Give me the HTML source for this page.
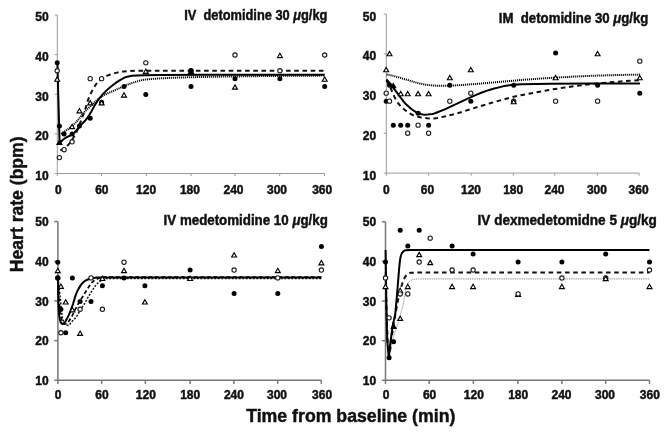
<!DOCTYPE html>
<html><head><meta charset="utf-8"><style>
html,body{margin:0;padding:0;background:#fff;}
svg{display:block;filter:blur(0.35px);}
</style></head><body>
<svg width="668" height="433" viewBox="0 0 668 433">
<rect width="668" height="433" fill="#fff"/>
<g stroke="#9a9a9a" stroke-width="1" fill="none">
<path d="M57.3,15 V173.5 H324.5"/>
<path d="M54.7,15 H57.3"/>
<path d="M54.7,54.62 H57.3"/>
<path d="M54.7,94.25 H57.3"/>
<path d="M54.7,133.88 H57.3"/>
<path d="M54.7,173.5 H57.3"/>
<path d="M57.3,173.5 V176.1"/>
<path d="M101.5,173.5 V176.1"/>
<path d="M146.3,173.5 V176.1"/>
<path d="M191.1,173.5 V176.1"/>
<path d="M234.9,173.5 V176.1"/>
<path d="M279.7,173.5 V176.1"/>
<path d="M324.5,173.5 V176.1"/>
</g>
<g font-family='"Liberation Sans", sans-serif' font-weight="bold" font-size="12" fill="#111" stroke="#111" stroke-width="0.45">
<text x="48.6" y="21.4" text-anchor="end">50</text>
<text x="48.6" y="61.02" text-anchor="end">40</text>
<text x="48.6" y="100.65" text-anchor="end">30</text>
<text x="48.6" y="140.28" text-anchor="end">20</text>
<text x="48.6" y="179.9" text-anchor="end">10</text>
<text x="58.4" y="193.6" text-anchor="middle">0</text>
<text x="101.85" y="193.6" text-anchor="middle">60</text>
<text x="146.1" y="193.6" text-anchor="middle">120</text>
<text x="189.9" y="193.6" text-anchor="middle">180</text>
<text x="233.5" y="193.6" text-anchor="middle">240</text>
<text x="277" y="193.6" text-anchor="middle">300</text>
<text x="322.2" y="193.6" text-anchor="middle">360</text>
</g>
<text x="184.2" y="19.8" font-family='"Liberation Sans", sans-serif' font-weight="bold" font-size="14" fill="#111" stroke="#111" stroke-width="0.45" textLength="143.2" lengthAdjust="spacingAndGlyphs">IV&#160; detomidine 30 <tspan font-style="italic">μ</tspan>g/kg</text>
<path d="M61.2,134 L66,130.5 L70.4,127.53 L72.8,125.54 L75.2,123.11 L78.4,119.54 L83.6,112.9 L85.6,110.68 L90.4,106.29 L95.6,101.22 L98.8,98.66 L102,96.38 L104.4,94.89 L106.8,93.66 L112.4,91.33 L121.6,87.24 L128.4,84.37 L131.2,83.3 L135.6,81.83 L138.8,80.9 L142,80.13 L144.4,79.68 L148,79.29 L154,78.77 L160.4,78.34 L173.2,77.76 L192.8,77.18 L218.8,76.66 L262.8,76.07 L296,75.74 L324.8,75.6" fill="none" stroke="#000" stroke-width="2" stroke-dasharray="1.1 0.9"/>
<path d="M60.3,150.3 L62.3,149.67 L63.9,148.83 L65.5,147.57 L67.5,145.58 L69.5,143.34 L71.5,140.66 L73.5,137.53 L75.5,134 L76.7,131.52 L77.9,128.7 L81.9,118.5 L85.1,109.6 L85.9,107.19 L87.9,100.36 L89.1,97.21 L90.3,94.49 L91.9,91.29 L94.3,87 L95.9,84.46 L97.1,82.85 L99.1,80.71 L100.7,79.32 L102.3,78.21 L104.3,77.06 L106.7,75.93 L110.3,74.54 L113.5,73.49 L117.9,72.4 L121.1,71.78 L123.5,71.44 L129.9,71.02 L136.3,70.81 L324.8,70.8" fill="none" stroke="#111" stroke-width="2" stroke-dasharray="4.6 3.6"/>
<path d="M57.4,62.6 L58.4,100 L59.6,143 L59.6,143 L62.4,140.21 L64.4,138.57 L66.4,137.36 L71.2,135.02 L72.4,134.28 L73.6,133.37 L74.8,132.25 L76.4,130.52 L79.2,127.26 L81.6,124.27 L85.6,120.21 L87.2,118.17 L89.6,114.5 L91.2,111.75 L94.8,105.11 L97.2,101.39 L99.2,98.64 L101.2,96.11 L103.2,93.82 L105.6,91.35 L108,89.11 L110.8,86.71 L114,84.2 L117.2,81.92 L119.6,80.39 L123.6,78.09 L125.6,77.19 L127.2,76.72 L129.6,76.17 L131.6,75.84 L136.8,75.47 L144,75.22 L160.8,74.98 L207.2,74.86 L324.8,74.8" fill="none" stroke="#000" stroke-width="2" stroke-linejoin="round"/>
<circle cx="57.2" cy="62.87" r="2.5" fill="#000"/>
<circle cx="57.2" cy="70.77" r="2.15" fill="#fff" stroke="#1a1a1a" stroke-width="1.1"/>
<path d="M57.2,76.96 L59.65,81.26 L54.75,81.26Z" fill="#fff" stroke="#000" stroke-width="1.15" stroke-linejoin="miter"/>
<circle cx="59.4" cy="126.03" r="2.5" fill="#000"/>
<path d="M59.4,140.12 L61.85,144.42 L56.95,144.42Z" fill="#000" stroke="#000" stroke-width="1.15" stroke-linejoin="miter"/>
<circle cx="59.4" cy="157.61" r="2.15" fill="#fff" stroke="#1a1a1a" stroke-width="1.1"/>
<circle cx="64.1" cy="133.93" r="2.5" fill="#000"/>
<circle cx="64.1" cy="149.72" r="2.15" fill="#fff" stroke="#1a1a1a" stroke-width="1.1"/>
<circle cx="72.1" cy="133.93" r="2.5" fill="#000"/>
<path d="M72.1,124.33 L74.55,128.63 L69.65,128.63Z" fill="#fff" stroke="#000" stroke-width="1.15" stroke-linejoin="miter"/>
<circle cx="72.1" cy="141.82" r="2.15" fill="#fff" stroke="#1a1a1a" stroke-width="1.1"/>
<circle cx="79.4" cy="126.03" r="2.5" fill="#000"/>
<path d="M79.4,108.54 L81.85,112.84 L76.95,112.84Z" fill="#fff" stroke="#000" stroke-width="1.15" stroke-linejoin="miter"/>
<circle cx="90.2" cy="118.14" r="2.5" fill="#000"/>
<circle cx="90.2" cy="78.66" r="2.15" fill="#fff" stroke="#1a1a1a" stroke-width="1.1"/>
<path d="M90.2,100.64 L92.65,104.94 L87.75,104.94Z" fill="#fff" stroke="#000" stroke-width="1.15" stroke-linejoin="miter"/>
<circle cx="101.6" cy="78.66" r="2.15" fill="#fff" stroke="#1a1a1a" stroke-width="1.1"/>
<circle cx="101.6" cy="102.34" r="2.5" fill="#000"/>
<path d="M101.6,100.64 L104.05,104.94 L99.15,104.94Z" fill="#fff" stroke="#000" stroke-width="1.15" stroke-linejoin="miter"/>
<circle cx="124" cy="86.56" r="2.5" fill="#000"/>
<path d="M124,92.75 L126.45,97.05 L121.55,97.05Z" fill="#fff" stroke="#000" stroke-width="1.15" stroke-linejoin="miter"/>
<circle cx="145.8" cy="62.87" r="2.15" fill="#fff" stroke="#1a1a1a" stroke-width="1.1"/>
<path d="M145.8,69.06 L148.25,73.36 L143.35,73.36Z" fill="#fff" stroke="#000" stroke-width="1.15" stroke-linejoin="miter"/>
<circle cx="145.8" cy="94.45" r="2.5" fill="#000"/>
<circle cx="191" cy="70.77" r="2.15" fill="#fff" stroke="#1a1a1a" stroke-width="1.1"/>
<path d="M191,69.06 L193.45,73.36 L188.55,73.36Z" fill="#fff" stroke="#000" stroke-width="1.15" stroke-linejoin="miter"/>
<circle cx="191" cy="70.77" r="2.5" fill="#000"/>
<circle cx="191" cy="86.56" r="2.5" fill="#000"/>
<circle cx="235" cy="54.98" r="2.15" fill="#fff" stroke="#1a1a1a" stroke-width="1.1"/>
<circle cx="235" cy="78.66" r="2.5" fill="#000"/>
<path d="M235,84.86 L237.45,89.16 L232.55,89.16Z" fill="#fff" stroke="#000" stroke-width="1.15" stroke-linejoin="miter"/>
<path d="M279.9,53.27 L282.35,57.58 L277.45,57.58Z" fill="#fff" stroke="#000" stroke-width="1.15" stroke-linejoin="miter"/>
<circle cx="279.9" cy="70.77" r="2.15" fill="#fff" stroke="#1a1a1a" stroke-width="1.1"/>
<circle cx="279.9" cy="78.66" r="2.5" fill="#000"/>
<circle cx="324.7" cy="54.98" r="2.15" fill="#fff" stroke="#1a1a1a" stroke-width="1.1"/>
<path d="M324.7,76.96 L327.15,81.26 L322.25,81.26Z" fill="#fff" stroke="#000" stroke-width="1.15" stroke-linejoin="miter"/>
<circle cx="324.7" cy="86.56" r="2.5" fill="#000"/>
<g stroke="#9a9a9a" stroke-width="1" fill="none">
<path d="M386.3,14 V173.1 H639.1"/>
<path d="M383.7,14 H386.3"/>
<path d="M383.7,53.77 H386.3"/>
<path d="M383.7,93.55 H386.3"/>
<path d="M383.7,133.32 H386.3"/>
<path d="M383.7,173.1 H386.3"/>
<path d="M386.3,173.1 V175.7"/>
<path d="M428.6,173.1 V175.7"/>
<path d="M471.2,173.1 V175.7"/>
<path d="M513.3,173.1 V175.7"/>
<path d="M554.8,173.1 V175.7"/>
<path d="M597.3,173.1 V175.7"/>
<path d="M639.1,173.1 V175.7"/>
</g>
<g font-family='"Liberation Sans", sans-serif' font-weight="bold" font-size="12" fill="#111" stroke="#111" stroke-width="0.45">
<text x="376.1" y="20.6" text-anchor="end">50</text>
<text x="376.1" y="60.38" text-anchor="end">40</text>
<text x="376.1" y="100.15" text-anchor="end">30</text>
<text x="376.1" y="139.92" text-anchor="end">20</text>
<text x="376.1" y="179.7" text-anchor="end">10</text>
<text x="386.3" y="193.8" text-anchor="middle">0</text>
<text x="427.5" y="193.8" text-anchor="middle">60</text>
<text x="471" y="193.8" text-anchor="middle">120</text>
<text x="513.2" y="193.8" text-anchor="middle">180</text>
<text x="554.5" y="193.8" text-anchor="middle">240</text>
<text x="596.9" y="193.8" text-anchor="middle">300</text>
<text x="638.6" y="193.8" text-anchor="middle">360</text>
</g>
<text x="498.8" y="22.7" font-family='"Liberation Sans", sans-serif' font-weight="bold" font-size="14" fill="#111" stroke="#111" stroke-width="0.45" textLength="149.6" lengthAdjust="spacingAndGlyphs">IM&#160; detomidine 30 <tspan font-style="italic">μ</tspan>g/kg</text>
<path d="M386.5,74.5 L390.1,75.11 L393.7,75.92 L416.9,82.78 L420.5,83.7 L425.7,84.65 L430.1,85.25 L436.1,85.66 L440.9,85.8 L452.5,85.54 L462.1,85 L479.3,83.66 L524.5,79.72 L540.9,78.52 L555.3,77.62 L578.1,76.39 L594.9,75.67 L619.7,74.96 L640,74.6" fill="none" stroke="#000" stroke-width="2" stroke-dasharray="1.1 0.9"/>
<path d="M386.5,80.5 L388.5,84.14 L390.9,88.8 L394.5,96.98 L396.1,100.17 L397.7,102.58 L399.3,104.63 L401.3,106.8 L403.7,109.03 L406.5,111.19 L410.5,113.78 L413.3,115.22 L416.1,116.26 L418.9,117.09 L421.3,117.59 L427.3,118.36 L431.7,118.6 L434.1,118.48 L437.3,117.97 L446.1,116.15 L454.1,114.19 L460.1,112.47 L472.5,108.59 L490.9,103.02 L504.1,99.28 L511.7,97.27 L520.9,95.23 L542.1,91.23 L552.9,89.34 L564.5,87.57 L577.3,85.84 L593.3,83.88 L603.3,82.9 L618.5,81.63 L629.7,80.85 L640,80.3" fill="none" stroke="#111" stroke-width="2" stroke-dasharray="4.6 3.6"/>
<path d="M386.5,79.5 L389.3,82.66 L391.3,85.13 L403.7,101.57 L405.3,103.47 L406.9,105.09 L409.7,107.61 L411.7,109.26 L413.7,110.71 L415.3,111.69 L416.9,112.48 L420.9,114.02 L422.9,114.54 L424.5,114.7 L427.7,114.54 L432.1,113.99 L433.7,113.66 L435.7,113.04 L445.3,109.07 L467.7,98.55 L476.1,94.86 L481.3,92.76 L488.5,90.17 L493.3,88.69 L502.9,86.35 L506.1,85.7 L509.3,85.16 L513.3,84.73 L521.7,84.33 L551.3,83.69 L589.3,83.42 L640,83.4" fill="none" stroke="#000" stroke-width="2" stroke-linejoin="round"/>
<path d="M386.2,67.44 L388.65,71.73 L383.75,71.73Z" fill="#fff" stroke="#000" stroke-width="1.15" stroke-linejoin="miter"/>
<circle cx="386.2" cy="93.15" r="2.15" fill="#fff" stroke="#1a1a1a" stroke-width="1.1"/>
<circle cx="386.2" cy="101.15" r="2.5" fill="#000"/>
<path d="M389.5,51.42 L391.95,55.73 L387.05,55.73Z" fill="#fff" stroke="#000" stroke-width="1.15" stroke-linejoin="miter"/>
<circle cx="389.5" cy="85.14" r="2.5" fill="#000"/>
<circle cx="389.5" cy="101.15" r="2.15" fill="#fff" stroke="#1a1a1a" stroke-width="1.1"/>
<path d="M393.3,83.44 L395.75,87.74 L390.85,87.74Z" fill="#000" stroke="#000" stroke-width="1.15" stroke-linejoin="miter"/>
<circle cx="393.3" cy="125.17" r="2.5" fill="#000"/>
<path d="M400.7,91.45 L403.15,95.75 L398.25,95.75Z" fill="#fff" stroke="#000" stroke-width="1.15" stroke-linejoin="miter"/>
<circle cx="400.7" cy="125.17" r="2.5" fill="#000"/>
<path d="M407.7,91.45 L410.15,95.75 L405.25,95.75Z" fill="#fff" stroke="#000" stroke-width="1.15" stroke-linejoin="miter"/>
<circle cx="407.7" cy="125.17" r="2.5" fill="#000"/>
<circle cx="407.7" cy="133.18" r="2.15" fill="#fff" stroke="#1a1a1a" stroke-width="1.1"/>
<path d="M418.1,91.45 L420.55,95.75 L415.65,95.75Z" fill="#fff" stroke="#000" stroke-width="1.15" stroke-linejoin="miter"/>
<circle cx="418.1" cy="113.16" r="2.5" fill="#000"/>
<circle cx="418.1" cy="125.17" r="2.15" fill="#fff" stroke="#1a1a1a" stroke-width="1.1"/>
<path d="M428.6,91.45 L431.05,95.75 L426.15,95.75Z" fill="#fff" stroke="#000" stroke-width="1.15" stroke-linejoin="miter"/>
<circle cx="428.6" cy="125.17" r="2.5" fill="#000"/>
<circle cx="428.6" cy="133.18" r="2.15" fill="#fff" stroke="#1a1a1a" stroke-width="1.1"/>
<path d="M449.8,75.44 L452.25,79.74 L447.35,79.74Z" fill="#fff" stroke="#000" stroke-width="1.15" stroke-linejoin="miter"/>
<circle cx="449.8" cy="85.14" r="2.5" fill="#000"/>
<circle cx="449.8" cy="101.15" r="2.15" fill="#fff" stroke="#1a1a1a" stroke-width="1.1"/>
<path d="M470.8,67.44 L473.25,71.73 L468.35,71.73Z" fill="#fff" stroke="#000" stroke-width="1.15" stroke-linejoin="miter"/>
<circle cx="470.8" cy="93.15" r="2.15" fill="#fff" stroke="#1a1a1a" stroke-width="1.1"/>
<circle cx="470.8" cy="101.15" r="2.5" fill="#000"/>
<circle cx="513.7" cy="85.14" r="2.5" fill="#000"/>
<circle cx="513.7" cy="101.15" r="2.15" fill="#fff" stroke="#1a1a1a" stroke-width="1.1"/>
<path d="M513.7,99.45 L516.15,103.75 L511.25,103.75Z" fill="#fff" stroke="#000" stroke-width="1.15" stroke-linejoin="miter"/>
<circle cx="555.6" cy="53.12" r="2.5" fill="#000"/>
<path d="M555.6,75.44 L558.05,79.74 L553.15,79.74Z" fill="#fff" stroke="#000" stroke-width="1.15" stroke-linejoin="miter"/>
<circle cx="555.6" cy="101.15" r="2.15" fill="#fff" stroke="#1a1a1a" stroke-width="1.1"/>
<path d="M597.6,51.42 L600.05,55.73 L595.15,55.73Z" fill="#fff" stroke="#000" stroke-width="1.15" stroke-linejoin="miter"/>
<circle cx="597.6" cy="85.14" r="2.5" fill="#000"/>
<circle cx="597.6" cy="101.15" r="2.15" fill="#fff" stroke="#1a1a1a" stroke-width="1.1"/>
<circle cx="639.8" cy="61.13" r="2.15" fill="#fff" stroke="#1a1a1a" stroke-width="1.1"/>
<path d="M639.8,75.44 L642.25,79.74 L637.35,79.74Z" fill="#fff" stroke="#000" stroke-width="1.15" stroke-linejoin="miter"/>
<circle cx="639.8" cy="93.15" r="2.5" fill="#000"/>
<g stroke="#777" stroke-width="1.5" fill="none">
<path d="M57.9,221.6 V380.3 H321.3"/>
<path d="M54.3,221.6 H57.9"/>
<path d="M54.3,261.27 H57.9"/>
<path d="M54.3,300.95 H57.9"/>
<path d="M54.3,340.62 H57.9"/>
<path d="M54.3,380.3 H57.9"/>
<path d="M57.9,380.3 V383.9"/>
<path d="M101.7,380.3 V383.9"/>
<path d="M145.4,380.3 V383.9"/>
<path d="M190.1,380.3 V383.9"/>
<path d="M233.9,380.3 V383.9"/>
<path d="M277.7,380.3 V383.9"/>
<path d="M321.3,380.3 V383.9"/>
</g>
<g font-family='"Liberation Sans", sans-serif' font-weight="bold" font-size="12" fill="#111" stroke="#111" stroke-width="0.45">
<text x="48.6" y="226.2" text-anchor="end">50</text>
<text x="48.6" y="265.88" text-anchor="end">40</text>
<text x="48.6" y="305.55" text-anchor="end">30</text>
<text x="48.6" y="345.23" text-anchor="end">20</text>
<text x="48.6" y="384.9" text-anchor="end">10</text>
<text x="58.05" y="398.7" text-anchor="middle">0</text>
<text x="101.9" y="398.7" text-anchor="middle">60</text>
<text x="145.8" y="398.7" text-anchor="middle">120</text>
<text x="190.2" y="398.7" text-anchor="middle">180</text>
<text x="233.9" y="398.7" text-anchor="middle">240</text>
<text x="277" y="398.7" text-anchor="middle">300</text>
<text x="322.1" y="398.7" text-anchor="middle">360</text>
</g>
<text x="163.6" y="224.6" font-family='"Liberation Sans", sans-serif' font-weight="bold" font-size="14" fill="#111" stroke="#111" stroke-width="0.45" textLength="164.2" lengthAdjust="spacingAndGlyphs">IV medetomidine 10 <tspan font-style="italic">μ</tspan>g/kg</text>
<path d="M58.1,278 L60.5,300 L61.7,312.22 L62.1,315.65 L62.5,318 L63.7,322.23 L64.5,323.98 L64.9,324.44 L66.1,325.01 L67.3,325.37 L68.5,325.5 L68.9,325.38 L69.3,325.06 L71.3,322.24 L74.9,318.56 L76.5,316.62 L77.3,315.36 L80.1,310.34 L84.9,303.17 L88.1,297.21 L90.5,293.13 L93.7,288.21 L95.7,285.43 L98.1,282.86 L99.3,281.81 L100.1,281.24 L103.7,279.34 L104.9,278.89 L106.1,278.59 L108.1,278.47 L114.9,278.4 L321.4,278.4" fill="none" stroke="#111" stroke-width="1.5" stroke-dasharray="2 1.5"/>
<path d="M58,278 L58.8,296.91 L59.2,302.49 L60,310.71 L60.8,316.1 L62,320.67 L62.8,322.71 L63.2,323.3 L63.6,323.53 L64.4,323.75 L66.4,324 L66.8,323.93 L67.2,323.64 L67.6,323.18 L70.4,318.82 L72.4,315.31 L76,308.05 L78.8,302.84 L82,297.8 L87.6,288.6 L90.8,283.98 L92.4,282.05 L93.2,281.34 L94.4,280.48 L96,279.54 L99.2,277.94 L100.4,277.41 L101.2,277.19 L102,277.1 L321.4,277.1" fill="none" stroke="#000" stroke-width="1.7" stroke-dasharray="4 2.5"/>
<path d="M57.95,278 L58.35,301.37 L58.75,309.89 L59.15,314.84 L59.95,319.71 L60.35,321.32 L60.75,322.4 L61.15,322.98 L61.95,323.73 L62.35,323.94 L62.75,324 L63.15,323.89 L63.95,323.32 L64.75,322.53 L65.15,321.96 L67.55,317.56 L68.75,315.11 L70.35,311.31 L72.35,305.92 L73.15,303.53 L75.15,296.81 L76.35,293.38 L77.15,291.54 L78.35,289.13 L80.35,285.87 L81.55,284.21 L82.75,282.85 L84.35,281.39 L85.55,280.55 L87.15,279.77 L89.15,279.04 L93.95,277.92 L96.75,277.6 L113.55,277.51 L321.4,277.5" fill="none" stroke="#000" stroke-width="2" stroke-linejoin="round"/>
<circle cx="57.8" cy="262.2" r="2.5" fill="#000"/>
<path d="M57.8,268.34 L60.25,272.64 L55.35,272.64Z" fill="#fff" stroke="#000" stroke-width="1.15" stroke-linejoin="miter"/>
<circle cx="57.8" cy="277.88" r="2.15" fill="#fff" stroke="#1a1a1a" stroke-width="1.1"/>
<circle cx="57.8" cy="277.88" r="2.5" fill="#000"/>
<path d="M60.9,284.02 L63.35,288.32 L58.45,288.32Z" fill="#fff" stroke="#000" stroke-width="1.15" stroke-linejoin="miter"/>
<circle cx="60.9" cy="309.24" r="2.5" fill="#000"/>
<circle cx="60.9" cy="332.76" r="2.15" fill="#fff" stroke="#1a1a1a" stroke-width="1.1"/>
<path d="M65.7,299.7 L68.15,304 L63.25,304Z" fill="#fff" stroke="#000" stroke-width="1.15" stroke-linejoin="miter"/>
<circle cx="65.7" cy="332.76" r="2.5" fill="#000"/>
<circle cx="72.4" cy="277.88" r="2.5" fill="#000"/>
<path d="M72.4,307.54 L74.85,311.84 L69.95,311.84Z" fill="#fff" stroke="#000" stroke-width="1.15" stroke-linejoin="miter"/>
<circle cx="80.1" cy="301.4" r="2.5" fill="#000"/>
<circle cx="80.1" cy="309.24" r="2.15" fill="#fff" stroke="#1a1a1a" stroke-width="1.1"/>
<path d="M80.1,331.06 L82.55,335.36 L77.65,335.36Z" fill="#fff" stroke="#000" stroke-width="1.15" stroke-linejoin="miter"/>
<circle cx="91" cy="277.88" r="2.15" fill="#fff" stroke="#1a1a1a" stroke-width="1.1"/>
<circle cx="91" cy="301.4" r="2.5" fill="#000"/>
<path d="M102.4,276.18 L104.85,280.48 L99.95,280.48Z" fill="#fff" stroke="#000" stroke-width="1.15" stroke-linejoin="miter"/>
<circle cx="102.4" cy="285.72" r="2.5" fill="#000"/>
<circle cx="102.4" cy="309.24" r="2.15" fill="#fff" stroke="#1a1a1a" stroke-width="1.1"/>
<circle cx="124" cy="262.2" r="2.15" fill="#fff" stroke="#1a1a1a" stroke-width="1.1"/>
<path d="M124,268.34 L126.45,272.64 L121.55,272.64Z" fill="#fff" stroke="#000" stroke-width="1.15" stroke-linejoin="miter"/>
<circle cx="124" cy="277.88" r="2.5" fill="#000"/>
<circle cx="144.9" cy="285.72" r="2.5" fill="#000"/>
<path d="M144.9,299.7 L147.35,304 L142.45,304Z" fill="#fff" stroke="#000" stroke-width="1.15" stroke-linejoin="miter"/>
<circle cx="190.1" cy="270.04" r="2.5" fill="#000"/>
<path d="M190.1,276.18 L192.55,280.48 L187.65,280.48Z" fill="#fff" stroke="#000" stroke-width="1.15" stroke-linejoin="miter"/>
<path d="M234.1,252.66 L236.55,256.96 L231.65,256.96Z" fill="#fff" stroke="#000" stroke-width="1.15" stroke-linejoin="miter"/>
<circle cx="234.1" cy="270.04" r="2.15" fill="#fff" stroke="#1a1a1a" stroke-width="1.1"/>
<circle cx="234.1" cy="293.56" r="2.5" fill="#000"/>
<path d="M277.8,268.34 L280.25,272.64 L275.35,272.64Z" fill="#fff" stroke="#000" stroke-width="1.15" stroke-linejoin="miter"/>
<circle cx="277.8" cy="277.88" r="2.15" fill="#fff" stroke="#1a1a1a" stroke-width="1.1"/>
<circle cx="277.8" cy="293.56" r="2.5" fill="#000"/>
<circle cx="321.4" cy="246.52" r="2.5" fill="#000"/>
<path d="M321.4,260.5 L323.85,264.8 L318.95,264.8Z" fill="#fff" stroke="#000" stroke-width="1.15" stroke-linejoin="miter"/>
<circle cx="321.4" cy="270.04" r="2.15" fill="#fff" stroke="#1a1a1a" stroke-width="1.1"/>
<g stroke="#777" stroke-width="1.5" fill="none">
<path d="M385.5,221.8 V380.3 H649.5"/>
<path d="M381.9,221.8 H385.5"/>
<path d="M381.9,261.43 H385.5"/>
<path d="M381.9,301.05 H385.5"/>
<path d="M381.9,340.68 H385.5"/>
<path d="M381.9,380.3 H385.5"/>
<path d="M385.5,380.3 V383.9"/>
<path d="M429.2,380.3 V383.9"/>
<path d="M473.4,380.3 V383.9"/>
<path d="M517.9,380.3 V383.9"/>
<path d="M561.9,380.3 V383.9"/>
<path d="M605.7,380.3 V383.9"/>
<path d="M649.5,380.3 V383.9"/>
</g>
<g font-family='"Liberation Sans", sans-serif' font-weight="bold" font-size="12" fill="#111" stroke="#111" stroke-width="0.45">
<text x="376.1" y="226.4" text-anchor="end">50</text>
<text x="376.1" y="266.03" text-anchor="end">40</text>
<text x="376.1" y="305.65" text-anchor="end">30</text>
<text x="376.1" y="345.28" text-anchor="end">20</text>
<text x="376.1" y="384.9" text-anchor="end">10</text>
<text x="386" y="398.7" text-anchor="middle">0</text>
<text x="429.6" y="398.7" text-anchor="middle">60</text>
<text x="473.8" y="398.7" text-anchor="middle">120</text>
<text x="518.2" y="398.7" text-anchor="middle">180</text>
<text x="561.5" y="398.7" text-anchor="middle">240</text>
<text x="605" y="398.7" text-anchor="middle">300</text>
<text x="649.8" y="398.7" text-anchor="middle">360</text>
</g>
<text x="477.6" y="225.2" font-family='"Liberation Sans", sans-serif' font-weight="bold" font-size="14" fill="#111" stroke="#111" stroke-width="0.45" textLength="179.2" lengthAdjust="spacingAndGlyphs">IV dexmedetomidne 5 <tspan font-style="italic">μ</tspan>g/kg</text>
<path d="M385.8,278.9 L386.8,320 L388.3,350 L389.6,357 L391.6,345.32 L392.4,341.45 L393.6,336.48 L395.6,329.7 L398,323.5 L398.8,320.69 L400.4,314.37 L402.8,306.31 L403.2,304.5 L404.8,294.22 L405.6,290.1 L406,288.5 L407.2,285.03 L408,283.47 L408.8,282.28 L409.6,281.41 L410.8,280.5 L411.6,280.12 L413.2,279.56 L415.2,279.18 L419.6,278.9 L649.5,278.9" fill="none" stroke="#999" stroke-width="1.1" stroke-dasharray="1 0.8"/>
<path d="M385.7,272.6 L386.5,310 L387.8,345 L389.2,357 L391.6,337.98 L393.6,324.15 L397.6,302.04 L399.6,292.59 L400.4,289.55 L402.4,283.2 L403.2,281 L404.4,278.27 L405.2,276.81 L406.8,274.6 L407.6,273.83 L409.2,273.13 L410.4,272.81 L411.2,272.71 L418,272.6 L649.5,272.6" fill="none" stroke="#111" stroke-width="2" stroke-dasharray="4.6 3.6"/>
<path d="M385.6,249.9 L386.3,300 L387.2,340 L388.7,357.5 L390.3,343.45 L392.3,327.83 L393.1,323.54 L394.7,317.08 L395.1,314.8 L395.5,311.58 L397.1,293.65 L399.1,269.2 L399.9,261.11 L400.3,258.46 L400.7,256.56 L401.1,255.07 L401.5,254 L402.3,252.53 L403.1,251.52 L403.9,250.96 L404.7,250.56 L405.5,250.3 L406.3,250.16 L409.9,249.9 L649.5,249.9" fill="none" stroke="#000" stroke-width="2" stroke-linejoin="round"/>
<circle cx="385.5" cy="262.05" r="2.5" fill="#000"/>
<circle cx="385.5" cy="277.99" r="2.15" fill="#fff" stroke="#1a1a1a" stroke-width="1.1"/>
<path d="M385.5,284.26 L387.95,288.56 L383.05,288.56Z" fill="#fff" stroke="#000" stroke-width="1.15" stroke-linejoin="miter"/>
<circle cx="389.1" cy="357.69" r="2.5" fill="#000"/>
<circle cx="389.1" cy="317.84" r="2.15" fill="#fff" stroke="#1a1a1a" stroke-width="1.1"/>
<circle cx="393.6" cy="341.75" r="2.5" fill="#000"/>
<path d="M393.6,324.11 L396.05,328.41 L391.15,328.41Z" fill="#000" stroke="#000" stroke-width="1.15" stroke-linejoin="miter"/>
<circle cx="400.2" cy="230.17" r="2.5" fill="#000"/>
<path d="M400.2,316.14 L402.65,320.44 L397.75,320.44Z" fill="#fff" stroke="#000" stroke-width="1.15" stroke-linejoin="miter"/>
<path d="M400.2,288.25 L402.65,292.55 L397.75,292.55Z" fill="#fff" stroke="#000" stroke-width="1.15" stroke-linejoin="miter"/>
<circle cx="400.2" cy="293.93" r="2.15" fill="#fff" stroke="#1a1a1a" stroke-width="1.1"/>
<circle cx="407.8" cy="246.11" r="2.5" fill="#000"/>
<path d="M407.8,284.26 L410.25,288.56 L405.35,288.56Z" fill="#fff" stroke="#000" stroke-width="1.15" stroke-linejoin="miter"/>
<circle cx="407.8" cy="293.93" r="2.15" fill="#fff" stroke="#1a1a1a" stroke-width="1.1"/>
<circle cx="419.2" cy="230.17" r="2.5" fill="#000"/>
<path d="M419.2,252.38 L421.65,256.68 L416.75,256.68Z" fill="#fff" stroke="#000" stroke-width="1.15" stroke-linejoin="miter"/>
<circle cx="419.2" cy="262.05" r="2.15" fill="#fff" stroke="#1a1a1a" stroke-width="1.1"/>
<circle cx="430.2" cy="238.14" r="2.15" fill="#fff" stroke="#1a1a1a" stroke-width="1.1"/>
<path d="M430.2,260.35 L432.65,264.65 L427.75,264.65Z" fill="#fff" stroke="#000" stroke-width="1.15" stroke-linejoin="miter"/>
<circle cx="452.1" cy="246.11" r="2.5" fill="#000"/>
<circle cx="452.1" cy="270.02" r="2.15" fill="#fff" stroke="#1a1a1a" stroke-width="1.1"/>
<path d="M452.1,284.26 L454.55,288.56 L449.65,288.56Z" fill="#fff" stroke="#000" stroke-width="1.15" stroke-linejoin="miter"/>
<circle cx="473.1" cy="254.08" r="2.5" fill="#000"/>
<circle cx="473.1" cy="270.02" r="2.15" fill="#fff" stroke="#1a1a1a" stroke-width="1.1"/>
<path d="M473.1,284.26 L475.55,288.56 L470.65,288.56Z" fill="#fff" stroke="#000" stroke-width="1.15" stroke-linejoin="miter"/>
<circle cx="518.1" cy="262.05" r="2.5" fill="#000"/>
<path d="M518.1,292.23 L520.55,296.53 L515.65,296.53Z" fill="#fff" stroke="#000" stroke-width="1.15" stroke-linejoin="miter"/>
<circle cx="518.1" cy="293.93" r="2.15" fill="#fff" stroke="#1a1a1a" stroke-width="1.1"/>
<circle cx="561.9" cy="262.05" r="2.5" fill="#000"/>
<circle cx="561.9" cy="277.99" r="2.15" fill="#fff" stroke="#1a1a1a" stroke-width="1.1"/>
<path d="M561.9,284.26 L564.35,288.56 L559.45,288.56Z" fill="#fff" stroke="#000" stroke-width="1.15" stroke-linejoin="miter"/>
<circle cx="605.7" cy="254.08" r="2.5" fill="#000"/>
<circle cx="605.7" cy="277.99" r="2.15" fill="#fff" stroke="#1a1a1a" stroke-width="1.1"/>
<path d="M605.7,276.29 L608.15,280.59 L603.25,280.59Z" fill="#fff" stroke="#000" stroke-width="1.15" stroke-linejoin="miter"/>
<circle cx="649.5" cy="262.05" r="2.5" fill="#000"/>
<circle cx="649.5" cy="270.02" r="2.15" fill="#fff" stroke="#1a1a1a" stroke-width="1.1"/>
<path d="M649.5,284.26 L651.95,288.56 L647.05,288.56Z" fill="#fff" stroke="#000" stroke-width="1.15" stroke-linejoin="miter"/>
<text transform="translate(22.6,272.2) rotate(-90)" font-family='"Liberation Sans", sans-serif' font-weight="bold" font-size="17.6" fill="#111" stroke="#111" stroke-width="0.45" textLength="135.8" lengthAdjust="spacingAndGlyphs">Heart rate (bpm)</text>
<text x="246.2" y="421.6" font-family='"Liberation Sans", sans-serif' font-weight="bold" font-size="17.6" fill="#111" stroke="#111" stroke-width="0.45" textLength="209.2" lengthAdjust="spacingAndGlyphs">Time from baseline (min)</text>
</svg>
</body></html>
